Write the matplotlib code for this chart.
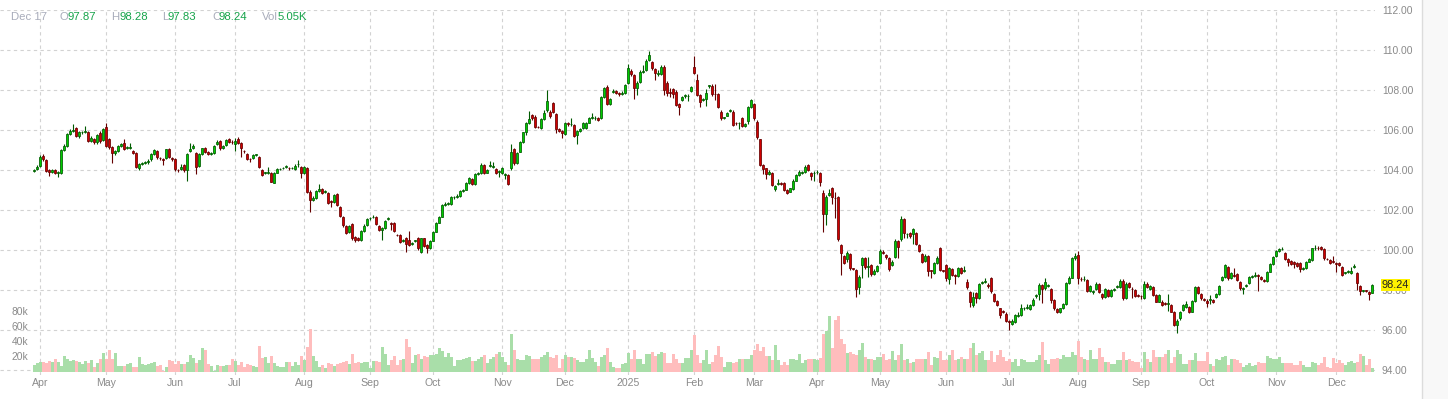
import matplotlib
matplotlib.use("Agg")
import matplotlib.pyplot as plt
import matplotlib.transforms as mtransforms
from matplotlib.patches import Rectangle
from matplotlib.lines import Line2D
import numpy as np
import pandas as pd

# trading days (weekdays minus the closed sessions)
holidays = ["2024-03-29", "2024-12-25", "2025-01-01", "2025-04-18"]
dates = pd.bdate_range("2024-03-27", "2025-12-17")
dates = dates[~dates.isin(pd.to_datetime(holidays))]

opens = [
    103.95, 104.05, 104.2, 104.72, 104.5, 104.0, 103.92, 104.0, 103.85, 103.87,
    105.0, 105.2, 105.8, 105.95, 106.1, 105.72, 105.88, 105.9, 105.88, 105.47,
    105.55, 105.4, 105.87, 105.5, 106.15, 105.53, 105.17, 104.87, 104.95, 105.2,
    105.33, 105.1, 105.12, 104.97, 104.87, 104.08, 104.3, 104.33, 104.38, 104.53,
    104.8, 104.97, 104.6, 104.55, 104.6, 105.05, 104.6, 104.53, 104.0, 104.05,
    104.25, 104.0, 104.95, 105.1, 104.83, 104.2, 104.8, 105.1, 104.9, 104.8,
    104.83, 105.3, 105.47, 105.1, 105.25, 105.55, 105.4, 105.3, 105.55, 105.33,
    104.97, 104.8, 104.55, 104.6, 104.75, 104.67, 104.0, 103.85, 103.87, 103.87,
    103.37, 103.87, 104.03, 104.08, 104.15, 104.1, 104.08, 104.05, 104.28, 104.17,
    103.83, 104.1, 102.92, 102.5, 102.6, 102.97, 103.03, 102.9, 102.83, 102.45,
    102.4, 102.8, 102.13, 101.63, 101.2, 100.9, 101.3, 100.67, 100.6, 100.5,
    100.95, 101.25, 101.58, 101.63, 101.63, 101.2, 101.0, 101.1, 101.55, 101.32,
    101.33, 100.75, 100.75, 100.45, 100.58, 100.5, 100.3, 100.45, 100.58, 99.92,
    100.58, 100.25, 100.08, 100.47, 100.92, 101.37, 101.67, 102.25, 102.3, 102.3,
    102.63, 102.67, 102.68, 102.97, 103.0, 103.33, 103.53, 103.3, 103.8, 103.85,
    104.25, 103.87, 104.2, 104.15, 104.03, 103.9, 103.85, 103.75, 103.75, 104.08,
    105.03, 104.33, 104.92, 105.42, 105.92, 106.37, 106.75, 106.67, 106.15, 106.1,
    106.55, 106.98, 106.92, 107.33, 106.8, 106.05, 105.95, 105.8, 106.35, 106.28,
    106.25, 105.75, 105.95, 106.1, 106.08, 106.37, 106.6, 106.58, 106.6, 106.58,
    107.67, 108.13, 107.3, 107.9, 107.97, 107.87, 107.8, 107.85, 108.33, 108.97,
    108.75, 108.1, 108.4, 108.92, 109.0, 109.5, 109.42, 109.05, 108.8, 108.82,
    109.15, 108.37, 107.9, 108.03, 107.92, 107.3, 107.5, 107.7, 107.68, 107.97,
    109.17, 108.5, 107.75, 107.5, 107.55, 108.2, 108.2, 107.8, 107.8, 106.92,
    106.6, 106.72, 106.95, 106.92, 106.35, 106.33, 106.58, 106.2, 106.47, 107.13,
    107.3, 106.42, 105.53, 104.25, 104.08, 103.8, 103.83, 103.05, 103.3, 103.35,
    103.33, 103.0, 102.92, 103.05, 103.47, 103.75, 103.87, 103.9, 104.25, 103.87,
    103.83, 103.88, 103.87, 102.87, 101.8, 102.75, 103.08, 102.62, 102.63, 100.25,
    99.7, 99.53, 99.8, 99.08, 99.0, 98.13, 99.25, 99.58, 99.15, 99.25,
    98.8, 98.97, 99.37, 99.92, 99.75, 99.58, 99.25, 99.63, 100.47, 100.53,
    101.53, 100.78, 100.83, 100.8, 100.87, 100.25, 99.8, 99.45, 99.7, 98.97,
    98.87, 99.33, 100.08, 98.97, 99.25, 98.53, 99.03, 98.72, 98.7, 99.08,
    98.95, 98.42, 97.92, 97.25, 97.83, 97.6, 98.35, 98.42, 98.25, 98.58,
    97.8, 97.47, 97.08, 96.93, 96.8, 96.45, 96.3, 96.38, 96.7, 96.75,
    97.08, 97.12, 97.03, 97.25, 97.7, 97.8, 98.25, 98.08, 98.2, 98.03,
    97.5, 97.05, 96.92, 97.1, 97.3, 98.37, 98.62, 99.58, 99.75, 98.55,
    98.53, 98.5, 97.97, 97.9, 98.05, 98.3, 97.8, 97.63, 98.0, 97.7,
    98.0, 98.15, 98.15, 98.47, 97.58, 98.33, 98.05, 98.0, 97.72, 97.7,
    97.58, 98.3, 98.05, 98.17, 97.75, 97.42, 97.42, 97.32, 97.3, 97.25,
    96.92, 96.25, 96.58, 97.0, 97.17, 97.17, 96.92, 97.47, 98.13, 97.8,
    97.55, 97.47, 97.5, 97.5, 97.67, 97.8, 98.5, 98.63, 99.17, 98.58,
    98.75, 98.8, 98.42, 98.05, 98.22, 98.35, 98.67, 98.7, 98.72, 98.67,
    98.5, 98.45, 98.92, 99.3, 99.7, 99.95, 100.03, 99.87, 99.53, 99.47,
    99.42, 99.37, 99.33, 99.03, 99.1, 99.42, 99.5, 100.08, 100.1, 100.13,
    100.03, 99.55, 99.5, 99.42, 99.37, 99.33, 99.17, 98.85, 98.9, 98.87,
    99.17, 98.83, 98.2, 97.95, 97.97, 97.92, 97.87,
]

closes = [
    104.0, 104.15, 104.65, 104.53, 103.97, 103.92, 104.0, 103.85, 103.88, 105.0,
    105.2, 105.8, 105.95, 106.0, 105.7, 105.88, 105.9, 105.95, 105.47, 105.62,
    105.4, 105.75, 105.47, 106.03, 105.22, 105.17, 104.87, 104.95, 105.2, 105.3,
    105.07, 105.15, 105.13, 104.87, 104.17, 104.3, 104.33, 104.38, 104.47, 104.8,
    105.0, 104.63, 104.58, 104.5, 105.03, 104.63, 104.55, 104.03, 103.98, 104.17,
    104.0, 104.8, 105.03, 105.2, 104.17, 104.8, 105.08, 104.9, 104.8, 104.83,
    105.2, 105.4, 105.08, 105.2, 105.5, 105.4, 105.38, 105.45, 105.35, 105.08,
    104.93, 104.53, 104.53, 104.75, 104.77, 104.13, 103.75, 103.87, 103.88, 103.42,
    103.87, 104.03, 104.05, 104.1, 104.17, 104.08, 104.1, 104.22, 104.3, 103.83,
    104.17, 102.92, 102.5, 102.6, 102.97, 103.03, 102.87, 102.92, 102.37, 102.4,
    102.75, 102.25, 101.7, 101.25, 100.87, 101.2, 100.58, 100.5, 100.5, 100.97,
    101.2, 101.53, 101.6, 101.67, 101.3, 101.0, 101.1, 101.47, 101.58, 101.3,
    100.97, 100.73, 100.42, 100.47, 100.3, 100.25, 100.32, 100.47, 100.08, 100.58,
    100.2, 100.08, 100.47, 100.92, 101.37, 101.67, 102.25, 102.3, 102.33, 102.63,
    102.67, 102.7, 102.97, 103.0, 103.33, 103.58, 103.3, 103.8, 103.85, 104.25,
    103.87, 104.0, 104.22, 104.17, 103.83, 103.92, 104.1, 103.78, 103.28, 104.92,
    104.33, 104.83, 105.38, 105.88, 106.33, 106.53, 106.58, 106.17, 106.13, 106.55,
    106.87, 107.47, 106.7, 106.92, 106.03, 105.97, 105.83, 106.33, 106.3, 106.3,
    105.7, 105.95, 106.07, 106.33, 106.37, 106.58, 106.63, 106.6, 106.52, 107.67,
    108.08, 107.3, 107.55, 107.97, 107.87, 107.8, 107.85, 108.25, 109.08, 108.8,
    108.08, 108.37, 108.92, 108.97, 109.47, 109.75, 109.08, 108.87, 108.82, 109.17,
    108.0, 107.87, 107.85, 107.8, 107.25, 107.17, 107.67, 107.72, 107.7, 108.13,
    108.87, 107.75, 107.42, 107.52, 107.87, 108.22, 107.8, 107.78, 107.17, 106.58,
    106.62, 106.87, 106.97, 106.25, 106.33, 106.35, 106.2, 106.3, 107.13, 107.5,
    106.58, 105.67, 104.25, 104.03, 103.8, 103.92, 103.25, 103.2, 103.37, 103.3,
    103.0, 102.87, 103.08, 103.47, 103.75, 103.92, 103.9, 104.17, 104.0, 103.7,
    103.87, 103.9, 103.42, 101.8, 102.67, 102.85, 102.67, 102.58, 100.53, 99.87,
    99.37, 99.87, 99.08, 99.03, 98.03, 98.67, 99.58, 99.13, 99.17, 98.8,
    98.97, 99.2, 99.97, 99.83, 99.63, 99.03, 99.42, 100.47, 100.13, 101.53,
    100.83, 100.8, 100.7, 101.03, 100.3, 99.97, 99.42, 99.7, 98.97, 98.95,
    99.33, 99.58, 99.0, 98.95, 98.58, 99.08, 98.75, 98.7, 99.08, 98.87,
    98.97, 98.13, 97.42, 97.67, 97.58, 98.3, 98.38, 98.43, 98.22, 97.97,
    97.47, 97.25, 96.75, 96.92, 96.47, 96.42, 96.45, 96.75, 96.75, 97.08,
    97.1, 97.15, 97.25, 97.5, 97.72, 98.25, 98.03, 98.42, 98.2, 97.5,
    97.08, 96.92, 97.08, 97.3, 98.37, 98.62, 99.58, 99.7, 98.62, 98.53,
    98.55, 97.97, 98.2, 97.95, 98.3, 97.92, 97.63, 98.03, 97.7, 98.0,
    98.02, 98.17, 98.47, 97.58, 98.3, 98.13, 98.03, 97.7, 97.7, 97.68,
    98.3, 98.13, 98.2, 97.75, 97.42, 97.75, 97.25, 97.3, 97.32, 96.92,
    96.25, 96.47, 96.92, 97.25, 97.3, 96.92, 97.47, 98.13, 97.83, 97.58,
    97.5, 97.37, 97.52, 97.4, 97.8, 98.2, 98.63, 99.25, 98.58, 98.83,
    98.72, 98.5, 98.08, 98.1, 98.25, 98.63, 98.7, 98.73, 98.7, 98.53,
    98.45, 98.92, 99.3, 99.63, 99.97, 100.03, 100.05, 99.53, 99.42, 99.3,
    99.3, 99.2, 99.03, 99.1, 99.42, 99.53, 100.08, 100.1, 100.08, 100.03,
    99.58, 99.53, 99.37, 99.4, 99.3, 99.25, 98.75, 98.87, 98.92, 98.97,
    99.2, 98.37, 97.97, 97.97, 97.95, 97.8, 98.24,
]

highs = [
    104.05, 104.25, 104.75, 104.8, 104.55, 104.05, 104.05, 104.05, 103.95, 105.05,
    105.3, 105.85, 106.05, 106.28, 106.15, 105.95, 105.95, 106.2, 105.95, 105.7,
    105.6, 105.8, 105.95, 106.1, 106.33, 105.6, 105.2, 105.0, 105.25, 105.35,
    105.55, 105.2, 105.35, 105.0, 104.9, 104.35, 104.38, 104.45, 104.55, 104.85,
    105.05, 105.0, 104.65, 104.6, 105.07, 105.1, 104.65, 104.58, 104.05, 104.3,
    104.3, 104.85, 105.35, 105.3, 104.9, 104.85, 105.1, 105.15, 104.95, 104.88,
    105.25, 105.5, 105.5, 105.25, 105.55, 105.6, 105.5, 105.6, 105.65, 105.4,
    105.0, 104.85, 104.6, 104.8, 104.82, 104.7, 104.05, 103.92, 104.15, 103.9,
    103.9, 104.1, 104.1, 104.15, 104.25, 104.15, 104.15, 104.3, 104.5, 104.2,
    104.22, 104.15, 103.0, 102.7, 103.0, 103.3, 103.08, 103.0, 102.88, 102.5,
    102.8, 102.85, 102.2, 101.7, 101.25, 101.25, 101.35, 100.7, 100.65, 101.0,
    101.3, 101.6, 101.65, 101.75, 101.68, 101.25, 101.15, 101.5, 101.67, 101.4,
    101.4, 100.8, 100.8, 100.55, 100.65, 100.97, 100.38, 100.52, 100.65, 100.62,
    100.62, 100.3, 100.5, 100.97, 101.42, 101.72, 102.3, 102.4, 102.4, 102.7,
    102.72, 102.78, 103.02, 103.05, 103.38, 103.65, 103.58, 103.85, 103.92, 104.33,
    104.3, 104.05, 104.45, 104.42, 104.08, 103.98, 104.15, 103.85, 103.8, 105.3,
    105.1, 104.9, 105.45, 105.92, 106.4, 106.93, 106.8, 106.75, 106.2, 106.6,
    107.0, 108.0, 107.0, 107.4, 106.85, 106.1, 106.0, 106.4, 106.42, 106.62,
    106.3, 106.0, 106.12, 106.38, 106.42, 106.65, 106.85, 106.7, 106.65, 107.72,
    108.15, 108.25, 107.62, 108.03, 108.0, 107.92, 107.95, 108.3, 109.3, 109.05,
    108.8, 108.45, 108.98, 109.25, 109.55, 109.97, 109.47, 109.1, 109.0, 109.25,
    109.25, 108.45, 108.1, 108.08, 108.0, 107.35, 107.72, 107.8, 107.8, 108.2,
    109.7, 108.8, 107.8, 107.6, 108.05, 108.25, 108.3, 108.3, 107.85, 107.0,
    106.67, 106.92, 107.05, 107.0, 106.4, 106.4, 106.65, 106.35, 107.2, 107.57,
    107.35, 106.5, 105.55, 104.3, 104.1, 104.0, 103.88, 103.25, 103.55, 103.4,
    103.38, 103.05, 103.12, 103.55, 103.82, 104.0, 103.95, 104.27, 104.3, 103.92,
    103.97, 104.0, 103.9, 103.0, 102.75, 103.05, 103.15, 102.92, 102.7, 100.3,
    99.75, 99.95, 99.85, 99.12, 99.05, 98.75, 99.65, 99.63, 99.63, 99.3,
    99.05, 99.27, 100.05, 99.98, 99.8, 99.65, 99.5, 100.55, 100.52, 101.72,
    101.6, 100.85, 100.88, 101.1, 100.92, 100.3, 99.85, 99.8, 99.75, 99.0,
    99.38, 99.72, 100.17, 99.02, 99.3, 99.15, 99.1, 98.8, 99.15, 99.15,
    99.2, 98.55, 97.97, 97.9, 97.88, 98.35, 98.45, 98.6, 98.35, 98.65,
    97.85, 97.5, 97.12, 97.0, 96.88, 96.5, 96.55, 96.8, 96.9, 97.3,
    97.15, 97.3, 97.3, 97.6, 97.8, 98.35, 98.3, 98.6, 98.28, 98.08,
    97.55, 97.1, 97.12, 97.35, 98.42, 98.7, 99.65, 99.85, 99.97, 98.65,
    98.72, 98.55, 98.25, 98.0, 98.38, 98.35, 97.85, 98.1, 98.05, 98.05,
    98.08, 98.25, 98.55, 98.55, 98.38, 98.38, 98.15, 98.05, 97.78, 97.75,
    98.45, 98.38, 98.25, 98.22, 97.8, 97.8, 97.5, 97.38, 97.8, 97.3,
    96.97, 96.55, 96.97, 97.3, 97.45, 97.22, 97.52, 98.2, 98.18, 97.85,
    97.6, 97.55, 97.75, 97.55, 97.85, 98.25, 98.7, 99.3, 99.22, 98.9,
    99.1, 98.85, 98.47, 98.15, 98.32, 98.7, 98.75, 98.9, 98.78, 98.72,
    98.55, 98.97, 99.35, 99.68, 100.02, 100.1, 100.15, 99.92, 99.58, 99.52,
    99.47, 99.42, 99.38, 99.15, 99.47, 99.58, 100.12, 100.25, 100.22, 100.18,
    100.08, 99.6, 99.55, 99.7, 99.42, 99.38, 99.22, 98.92, 99.0, 99.15,
    99.3, 98.9, 98.25, 98.02, 98.0, 97.97, 98.28,
]

lows = [
    103.9, 104.0, 104.15, 104.45, 103.9, 103.7, 103.85, 103.8, 103.65, 103.8,
    104.95, 105.15, 105.75, 105.9, 105.65, 105.6, 105.8, 105.85, 105.42, 105.4,
    105.3, 105.3, 105.35, 105.45, 105.15, 105.05, 104.37, 104.75, 104.9, 105.15,
    105.0, 105.05, 105.05, 104.8, 104.1, 104.0, 104.25, 104.28, 104.3, 104.45,
    104.75, 104.55, 104.5, 104.25, 104.55, 104.58, 104.45, 103.95, 103.9, 104.0,
    103.9, 103.45, 104.9, 105.05, 103.8, 104.15, 104.75, 104.85, 104.75, 104.75,
    104.8, 105.25, 105.0, 105.05, 105.2, 105.35, 105.3, 104.95, 105.3, 104.67,
    104.85, 104.5, 104.4, 104.55, 104.7, 104.1, 103.7, 103.8, 103.8, 103.38,
    103.35, 103.85, 103.98, 104.05, 104.1, 104.0, 104.05, 104.0, 104.17, 103.6,
    103.8, 102.85, 101.92, 102.45, 102.55, 102.9, 102.82, 102.85, 102.3, 102.15,
    102.35, 102.2, 101.65, 101.15, 100.8, 100.85, 100.5, 100.4, 100.45, 100.45,
    100.9, 101.2, 101.5, 101.6, 101.25, 100.95, 100.5, 101.05, 101.5, 101.0,
    100.9, 100.7, 100.35, 100.4, 99.92, 100.2, 100.25, 100.4, 100.0, 99.85,
    100.15, 99.83, 100.05, 100.45, 100.9, 101.35, 101.65, 102.2, 102.25, 102.25,
    102.55, 102.62, 102.65, 102.92, 102.98, 103.3, 103.25, 103.25, 103.75, 103.8,
    103.8, 103.83, 104.15, 104.1, 103.78, 103.65, 103.8, 103.55, 103.25, 103.98,
    104.25, 104.3, 104.88, 105.35, 105.75, 106.3, 106.5, 106.1, 106.08, 106.05,
    106.5, 106.9, 106.6, 106.85, 105.85, 105.9, 105.6, 105.75, 106.2, 106.2,
    105.65, 105.3, 105.9, 106.05, 106.05, 106.35, 106.55, 106.5, 106.47, 106.55,
    107.6, 107.25, 107.25, 107.85, 107.82, 107.7, 107.75, 107.8, 108.3, 108.7,
    107.55, 107.75, 108.35, 108.85, 108.95, 109.45, 109.0, 108.5, 108.7, 108.75,
    107.75, 107.7, 107.65, 107.6, 107.2, 106.75, 107.45, 107.6, 107.45, 107.9,
    108.8, 107.7, 107.15, 107.45, 107.2, 108.08, 107.72, 107.5, 107.1, 106.5,
    106.55, 106.7, 106.9, 106.2, 106.27, 106.05, 106.15, 106.17, 106.3, 107.1,
    106.5, 105.55, 104.2, 103.8, 103.55, 103.75, 103.2, 102.95, 103.25, 103.25,
    102.95, 102.8, 102.9, 103.0, 103.45, 103.7, 103.8, 103.85, 103.95, 103.5,
    103.45, 103.82, 103.2, 100.92, 101.25, 102.7, 102.3, 101.6, 100.45, 98.75,
    99.3, 99.4, 99.0, 98.98, 97.67, 97.8, 98.6, 99.05, 98.67, 98.72,
    98.75, 98.92, 99.3, 99.78, 99.55, 98.97, 99.2, 99.58, 99.6, 100.47,
    100.6, 100.6, 100.6, 100.3, 100.25, 99.9, 99.35, 99.4, 98.7, 98.58,
    98.82, 99.3, 98.95, 98.9, 98.45, 98.3, 98.7, 98.3, 98.65, 98.82,
    98.9, 98.05, 97.15, 97.15, 97.35, 97.55, 98.3, 98.35, 98.1, 97.85,
    97.42, 97.2, 96.6, 96.85, 96.4, 96.0, 96.25, 96.33, 96.65, 96.7,
    97.02, 97.05, 96.98, 97.2, 97.6, 97.5, 97.35, 98.02, 98.15, 97.35,
    97.0, 96.87, 96.85, 97.05, 97.25, 98.3, 98.58, 99.5, 98.3, 98.45,
    98.45, 97.9, 97.92, 97.8, 98.0, 97.85, 97.55, 97.58, 97.65, 97.65,
    97.95, 98.1, 98.1, 97.5, 97.55, 98.08, 97.6, 97.65, 97.65, 97.55,
    97.55, 98.08, 98.0, 97.7, 97.38, 97.4, 97.2, 97.25, 96.95, 96.88,
    96.2, 95.87, 96.5, 96.95, 97.1, 96.87, 96.88, 97.42, 97.78, 97.52,
    97.45, 97.15, 97.3, 97.35, 97.62, 97.75, 98.45, 98.58, 98.5, 98.55,
    98.65, 98.45, 98.0, 97.8, 98.15, 98.3, 98.6, 98.65, 97.97, 98.48,
    98.38, 98.4, 98.88, 99.25, 99.65, 99.9, 99.98, 99.48, 99.2, 99.25,
    99.1, 99.15, 98.9, 98.98, 99.05, 99.38, 99.45, 100.02, 100.02, 99.98,
    99.5, 99.48, 99.32, 99.35, 98.92, 99.2, 98.7, 98.8, 98.85, 98.82,
    99.1, 98.0, 97.75, 97.9, 97.9, 97.5, 97.83,
]

# volume in thousands of contracts
volumes = [
    10, 12, 14, 13, 12, 15, 14, 17, 14, 8,
    21, 18, 15, 16, 15, 14, 11, 15, 12, 16,
    7, 12, 18, 26, 17, 29, 17, 26, 8, 8,
    8, 11, 12, 7, 7, 20, 11, 9, 11, 12,
    14, 8, 9, 2, 7, 16, 15, 11, 15, 11,
    11, 14, 23, 19, 12, 16, 32, 30, 11, 8,
    2, 10, 8, 8, 9, 10, 17, 15, 9, 14,
    7, 11, 9, 8, 7, 35, 19, 20, 12, 21,
    12, 8, 7, 7, 14, 14, 8, 14, 10, 21,
    16, 33, 57, 21, 15, 7, 10, 5, 12, 11,
    8, 11, 12, 14, 15, 11, 24, 12, 14, 12,
    14, 14, 6, 15, 15, 14, 33, 24, 10, 16,
    21, 9, 16, 17, 44, 33, 12, 23, 24, 18,
    21, 20, 23, 23, 24, 32, 28, 20, 26, 20,
    8, 16, 16, 17, 19, 20, 15, 15, 17, 20,
    23, 12, 17, 20, 24, 27, 20, 14, 9, 51,
    30, 18, 16, 16, 23, 21, 17, 17, 17, 20,
    23, 27, 20, 19, 23, 6, 18, 23, 20, 20,
    19, 16, 14, 14, 17, 30, 19, 14, 8, 20,
    23, 32, 14, 7, 5, 6, 11, 12, 26, 17,
    30, 18, 18, 11, 24, 24, 27, 21, 24, 27,
    26, 12, 12, 24, 17, 12, 12, 19, 19, 30,
    50, 23, 12, 16, 30, 11, 14, 23, 35, 20,
    7, 14, 14, 12, 14, 17, 17, 17, 17, 23,
    29, 38, 28, 33, 21, 21, 16, 36, 16, 10,
    14, 10, 17, 17, 16, 24, 12, 16, 18, 17,
    17, 16, 19, 51, 55, 75, 32, 69, 75, 44,
    38, 26, 27, 24, 23, 30, 39, 20, 18, 18,
    16, 20, 20, 24, 16, 18, 28, 16, 23, 38,
    16, 18, 12, 14, 17, 17, 18, 18, 27, 9,
    20, 19, 28, 16, 16, 23, 30, 16, 17, 20,
    17, 17, 32, 39, 23, 26, 28, 16, 16, 28,
    14, 23, 29, 20, 15, 18, 14, 17, 8, 18,
    16, 14, 14, 14, 16, 23, 40, 16, 11, 18,
    17, 19, 18, 23, 20, 20, 27, 23, 42, 20,
    18, 16, 30, 17, 17, 32, 20, 14, 14, 11,
    11, 16, 16, 27, 16, 17, 15, 14, 14, 6,
    27, 17, 14, 30, 20, 20, 20, 24, 30, 12,
    20, 30, 24, 11, 11, 16, 16, 26, 15, 15,
    15, 27, 11, 8, 18, 16, 20, 21, 9, 18,
    17, 16, 12, 7, 10, 12, 8, 10, 14, 12,
    12, 21, 19, 17, 18, 20, 12, 12, 12, 12,
    9, 9, 15, 9, 7, 7, 14, 12, 10, 12,
    20, 7, 6, 19, 12, 16, 12, 9, 14, 15,
    12, 14, 24, 21, 9, 17, 5.05,
]

price_ticks = [94, 96, 98, 100, 102, 104, 106, 108, 110, 112]
volume_ticks = [20, 40, 60, 80]

W, H = 1448, 399
plt.rcParams["font.family"] = ["Liberation Sans", "DejaVu Sans"]

o = np.array(opens)
c = np.array(closes)
hi = np.maximum(np.array(highs), np.maximum(o, c))
lo = np.minimum(np.array(lows), np.minimum(o, c))
v = np.array(volumes)
x = np.arange(len(dates))
up = c >= o

fig = plt.figure(figsize=(W / 100, H / 100), dpi=100)
fig.patch.set_facecolor("white")

# plot area: x 0..1375 px, y 10..375 px (from top)
pos = [0, (H - 375) / H, 1375 / W, 365 / H]
ax = fig.add_axes(pos)
ax.set_xlim(-34 / 3, 447)
ax.set_ylim(93.75, 112)
for s in ax.spines.values():
    s.set_visible(False)

month_pos = [i for i in range(1, len(dates)) if dates[i].month != dates[i - 1].month]
month_lbl = ["2025" if dates[i].month == 1 else dates[i].strftime("%b") for i in month_pos]
ax.set_xticks(month_pos)
ax.set_xticklabels(month_lbl)
ax.set_yticks(price_ticks)
ax.set_yticklabels([f"{t:.2f}" for t in price_ticks])
ax.yaxis.tick_right()
ax.tick_params(axis="y", length=0, pad=5, labelsize=7.4, labelcolor="#8a8a8a")
ax.tick_params(axis="x", length=0, pad=2.5, labelsize=7.6, labelcolor="#8a8a8a")
ax.grid(True, color="#d2d2d2", linestyle=(0, (3, 3)), linewidth=0.8)
ax.set_axisbelow(True)

# candles
edge = np.where(up, "#005a00", "#650000")
fill = np.where(up, "#00cc00", "#d00000")
ax.vlines(x, lo, hi, colors=edge, linewidth=0.8, zorder=2)
body_lo = np.minimum(o, c)
body_h = np.maximum(np.abs(c - o), 0.03)
ax.bar(x, body_h, bottom=body_lo, width=0.8, color=fill,
       edgecolor=edge, linewidth=0.55, zorder=3)

# volume pane overlaid at the bottom
axv = fig.add_axes(pos, sharex=ax)
axv.patch.set_visible(False)
axv.axis("off")
axv.set_ylim(-4, -4 + 365 / 0.75)
axv.bar(x, v, width=1.0, color=np.where(up, "#a9dea9", "#ffbdbd"), linewidth=0)
vtr = mtransforms.blended_transform_factory(axv.transAxes, axv.transData)
for t in volume_ticks:
    axv.text(12 / 1375, t, f"{t}k", transform=vtr, ha="left", va="center",
             fontsize=7.4, color="#8a8a8a")

# last price tag (covers the 98.00 label, as in the source)
ptr = mtransforms.blended_transform_factory(ax.transAxes, ax.transData)
ax.text(1 + 7 / 1375, c[-1], f"{c[-1]:.2f}", transform=ptr, ha="left", va="center",
        fontsize=7.9, color="#222222", zorder=10,
        bbox=dict(boxstyle="square,pad=0.1", facecolor="#fff200", edgecolor="none"))

# right margin strip
fig.add_artist(Rectangle((1422 / W, 0), 26 / W, 1, transform=fig.transFigure,
                         facecolor="#f8f8f8", edgecolor="none"))
fig.add_artist(Line2D([1422 / W, 1422 / W], [0, 1], transform=fig.transFigure,
                      color="#dcdcdc", linewidth=1))

# header with the last bar's values
gray, green = "#a8acba", "#16a34a"
hy = 1 - 17 / H
header = [
    (11, dates[-1].strftime("%b %d").replace(" 0", " "), gray),
    (59, "O", gray), (67, f"{o[-1]:.2f}", green),
    (111, "H", gray), (119, f"{highs[-1]:.2f}", green),
    (162, "L", gray), (168, f"{lows[-1]:.2f}", green),
    (212, "C", gray), (219, f"{c[-1]:.2f}", green),
    (262, "Vol", gray), (278, f"{v[-1]:.2f}K", green),
]
for px, s, col in header:
    fig.text(px / W, hy, s, ha="left", va="center", fontsize=8.2, color=col)

fig.savefig("out.png", dpi=100)
